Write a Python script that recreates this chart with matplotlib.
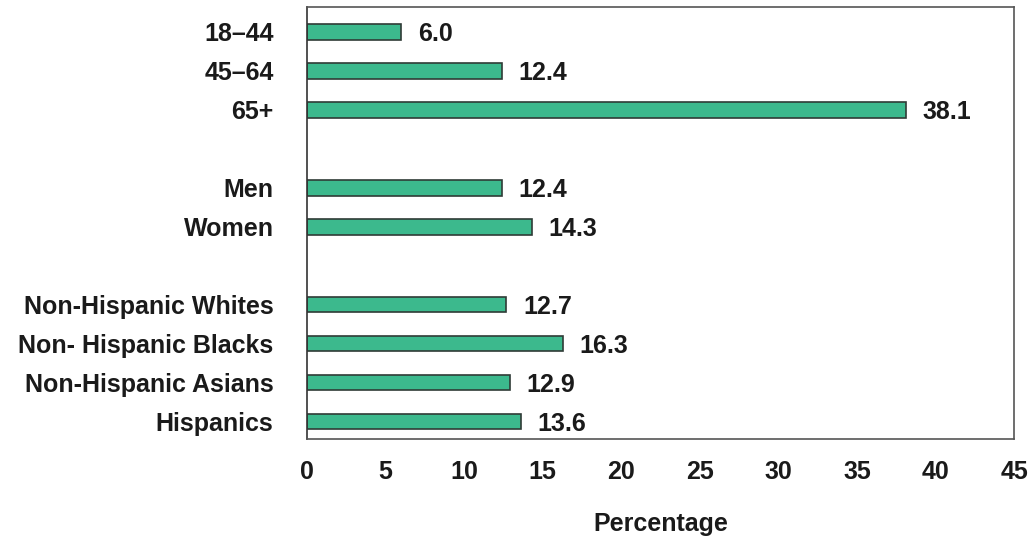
import numpy as np
import matplotlib.pyplot as plt

# data
groups = ['18–44', '45–64', '65+',
          'Men', 'Women',
          'Non-Hispanic Whites', 'Non- Hispanic Blacks', 'Non-Hispanic Asians', 'Hispanics']
values = [6.0, 12.4, 38.1, 12.4, 14.3, 12.7, 16.3, 12.9, 13.6]
slots = [0, 1, 2, 4, 5, 7, 8, 9, 10]   # blank rows between the three blocks
xticks = [0, 5, 10, 15, 20, 25, 30, 35, 40, 45]

plt.rcParams['font.family'] = ['Liberation Sans', 'DejaVu Sans']
plt.rcParams['font.weight'] = 'bold'

fs = 18

fig = plt.figure(figsize=(10.3, 5.4), dpi=100)
ax = fig.add_axes([0.298, 0.187, 0.6865, 0.800])

ax.barh(slots, values, height=0.4, color='#3cb98d', edgecolor='#2f3b36', linewidth=1.2)

for s, v in zip(slots, values):
    ax.annotate(f'{v:.1f}', (v, s), xytext=(12, -1.5), textcoords='offset points',
                va='center', ha='left', fontsize=fs, fontweight='bold', color='#1a1a1a')

ax.set_xlim(0, 45)
ax.set_ylim(10.45, -0.64)
ax.set_yticks(slots)
ax.set_yticklabels(groups)
ax.set_xticks(xticks)
ax.tick_params(axis='both', length=0, labelsize=fs, colors='#1a1a1a')
ax.tick_params(axis='y', pad=24)
ax.tick_params(axis='x', pad=15)
for lab in ax.get_xticklabels() + ax.get_yticklabels():
    lab.set_fontweight('bold')

for sp in ax.spines.values():
    sp.set_color('#555555')
    sp.set_linewidth(1.2)
ax.spines['left'].set_color('#333333')

ax.set_xlabel('Percentage', fontsize=fs, fontweight='bold', labelpad=20, color='#1a1a1a')

fig.savefig('out.png', dpi=100)
